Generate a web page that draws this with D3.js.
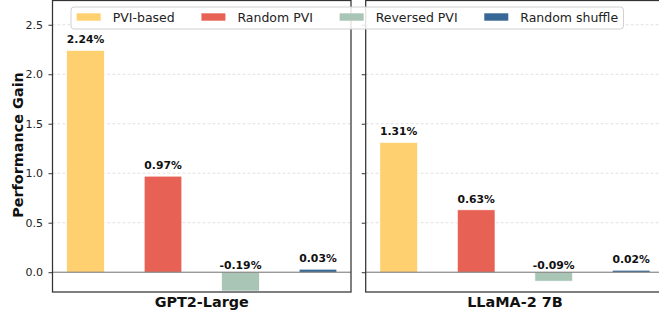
<!DOCTYPE html>
<html>
<head>
<meta charset="utf-8">
<script src="https://cdn.jsdelivr.net/npm/d3@7"></script>
<style>
  html, body { margin: 0; padding: 0; background: #fff; }
  svg { display: block; font-family: "DejaVu Sans", sans-serif; }
</style>
</head>
<body>
<svg id="chart" width="659" height="316"></svg>
<script>
const models = ["GPT2-Large", "LLaMA-2 7B"];
const methods = ["PVI-based", "Random PVI", "Reversed PVI", "Random shuffle"];
const gpt2Values = [2.24, 0.97, -0.19, 0.03];
const llamaValues = [1.31, 0.63, -0.09, 0.02];
const methodColors = ["#FFD06F", "#E76254", "#A8C5B5", "#376795"];
const yTicks = [0, 0.5, 1.0, 1.5, 2.0, 2.5];
const yLabel = "Performance Gain";

const seriesByModel = [gpt2Values, llamaValues];

(function () {
const svg = d3.select("#chart");

const plotTop = 0.5, plotBottom = 292;
const panels = [
  { left: 52.5, right: 351 },
  { left: 365.7, right: 664.2 }
];

const y = d3.scaleLinear().domain([-0.2, 2.745]).range([plotBottom, plotTop]);

panels.forEach((p, pi) => {
  const x = d3.scaleLinear().domain([-0.426, 3.426]).range([p.left, p.right]);
  const barW = x(0.485) - x(0);
  const g = svg.append("g");
  const vals = seriesByModel[pi];

  // grid
  g.selectAll("line.grid").data(yTicks.filter(t => t !== 0)).enter().append("line")
    .attr("x1", p.left).attr("x2", p.right)
    .attr("y1", d => y(d)).attr("y2", d => y(d))
    .attr("stroke", "#d8d8d8").attr("stroke-width", 0.8)
    .attr("stroke-dasharray", "2.8,2.2");

  // bars
  g.selectAll("rect.bar").data(vals).enter().append("rect")
    .attr("x", (d, i) => x(i) - barW / 2)
    .attr("width", barW)
    .attr("y", d => y(Math.max(0, d)))
    .attr("height", d => Math.abs(y(d) - y(0)))
    .attr("fill", (d, i) => methodColors[i])
    .attr("stroke", "#ffffff").attr("stroke-width", 0.6);

  // zero line
  g.append("line")
    .attr("x1", p.left).attr("x2", p.right)
    .attr("y1", y(0)).attr("y2", y(0))
    .attr("stroke", "#707070").attr("stroke-width", 1);

  // value labels
  g.selectAll("text.val").data(vals).enter().append("text")
    .attr("x", (d, i) => x(i))
    .attr("y", d => d >= 0 ? y(d) - 7.3 : y(0) - 3.5)
    .attr("text-anchor", "middle")
    .attr("font-weight", "bold")
    .attr("font-size", "10.8px")
    .attr("fill", "#111")
    .text(d => d.toFixed(2) + "%");

  // y axis
  const axis = d3.axisLeft(y).tickValues(yTicks).tickSize(4).tickPadding(5.5)
    .tickFormat(pi === 0 ? d3.format(".1f") : () => "");
  const ag = svg.append("g").attr("transform", `translate(${p.left},0)`).call(axis);
  ag.select(".domain").remove();
  ag.selectAll(".tick line").attr("stroke", "#333").attr("stroke-width", 1);
  ag.selectAll(".tick text").attr("font-size", "11px").attr("fill", "#222")
    .attr("font-family", "DejaVu Sans");

  // frame
  svg.append("rect")
    .attr("x", p.left).attr("y", plotTop)
    .attr("width", p.right - p.left).attr("height", plotBottom - plotTop)
    .attr("fill", "none").attr("stroke", "#333").attr("stroke-width", 1.25);

  // x label
  svg.append("text")
    .attr("x", (p.left + p.right) / 2).attr("y", 306.5)
    .attr("text-anchor", "middle").attr("font-weight", "bold")
    .attr("font-size", "14.4px").attr("fill", "#111")
    .text(models[pi]);
});

// y label
svg.append("text")
  .attr("transform", `translate(23,145) rotate(-90)`)
  .attr("text-anchor", "middle").attr("font-weight", "bold")
  .attr("font-size", "14.4px").attr("fill", "#111")
  .text(yLabel);

// legend
const lg = svg.append("g");
const box = lg.append("rect")
  .attr("x", 71).attr("y", 7).attr("rx", 3).attr("ry", 3)
  .attr("height", 22)
  .attr("fill", "#fff").attr("fill-opacity", 0.85)
  .attr("stroke", "#d0d0d0").attr("stroke-width", 1);
let cx = 76.7;
methods.forEach((m, i) => {
  lg.append("rect").attr("x", cx).attr("y", 13.3).attr("width", 24).attr("height", 7.4)
    .attr("fill", methodColors[i]);
  const t = lg.append("text").attr("x", cx + 36).attr("y", 21.6)
    .attr("font-size", "12.5px").attr("fill", "#222").text(m);
  const tw = t.node().getComputedTextLength();
  cx = cx + 36 + tw + (i < methods.length - 1 ? 26.7 : 5.3);
});
box.attr("width", cx - 71);
})();
</script>
</body>
</html>
